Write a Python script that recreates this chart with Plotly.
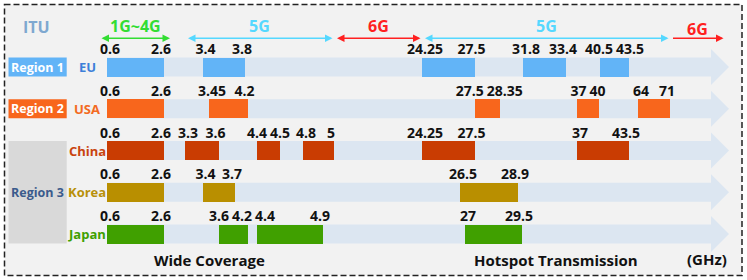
import numpy as np
import plotly.graph_objects as go

# ---------------- data ----------------
countries = ["EU", "USA", "China", "Korea", "Japan"]
country_region = ["Region 1", "Region 2", "Region 3", "Region 3", "Region 3"]

eu_lo = [0.6, 3.4, 24.25, 31.8, 40.5]
eu_hi = [2.6, 3.8, 27.5, 33.4, 43.5]
usa_lo = [0.6, 3.45, 27.5, 37, 64]
usa_hi = [2.6, 4.2, 28.35, 40, 71]
china_lo = [0.6, 3.3, 4.4, 4.8, 24.25, 37]
china_hi = [2.6, 3.6, 4.5, 5, 27.5, 43.5]
korea_lo = [0.6, 3.4, 26.5]
korea_hi = [2.6, 3.7, 28.9]
japan_lo = [0.6, 3.6, 4.4, 27]
japan_hi = [2.6, 4.2, 4.9, 29.5]

gen_names = ["1G~4G", "5G", "6G", "5G", "6G"]
gen_lo = [0.6, 3.3, 5.0, 24.25, 71]
gen_hi = [2.6, 5.0, 24.25, 71, None]

# ---------------- schematic (non-linear) frequency axis ----------------
# The figure uses a hand-drawn, compressed frequency scale; these knots define it.
axis_knots_ghz = [0.6, 2.6, 3.3, 3.4, 3.45, 3.6, 3.7, 3.8, 4.2, 4.4, 4.5, 4.8, 4.9, 5.0,
                  24.25, 26.5, 27.0, 27.5, 28.35, 28.9, 29.5, 31.8, 33.4, 37, 40, 40.5, 43.5, 64, 71]
axis_knots_pos = [107, 164, 185, 202.5, 209, 218.5, 235, 245, 247.5, 257, 280, 303, 323, 334,
                  422, 460, 465, 474.5, 500, 518, 522, 523, 566, 577, 599, 600, 629, 638, 670]


def fpos(f):
    return float(np.interp(f, axis_knots_ghz, axis_knots_pos))


# ---------------- styles ----------------
W, H = 747, 280
ROW0, STEP = 67.0, 41.75
FONT = "Open Sans"
bar_colors = ["#62b4f7", "#f8661c", "#c93c02", "#b98f00", "#40a000"]
name_colors = ["#3d7fd9", "#f36a22", "#c9440f", "#b8900a", "#3ea000"]
region_fill = {"Region 1": "#62b4f7", "Region 2": "#f8661c", "Region 3": "#d9d9d9"}
region_text = {"Region 1": "white", "Region 2": "white", "Region 3": "#3b5b8c"}
gen_colors = ["#33dd33", "#55d8ff", "#ff2020", "#55d8ff", "#ff2020"]
band_bg = "#dce6f1"


def py(p):
    """pixel row -> y-axis units (row index scale)"""
    return (p - ROW0) / STEP


bands = [(eu_lo, eu_hi), (usa_lo, usa_hi), (china_lo, china_hi),
         (korea_lo, korea_hi), (japan_lo, japan_hi)]

fig = go.Figure()
shapes = []
annotations = []

# outer panel
shapes.append(dict(type="rect", xref="x", yref="y", x0=4.5, x1=742, y0=py(4.5), y1=py(275.5),
                   fillcolor="#f2f2f2", line=dict(color="#222", width=1.5, dash="6px,3px"),
                   layer="below"))

# background arrows for each row
x_start = fpos(min(axis_knots_ghz))
body_h, head_h, head_x, tip_x = 9.5 / STEP, 18 / STEP, 711, 729
for i in range(len(countries)):
    c = i
    path = (f"M {x_start},{c-body_h} L {head_x},{c-body_h} L {head_x},{c-head_h} "
            f"L {tip_x},{c} L {head_x},{c+head_h} L {head_x},{c+body_h} L {x_start},{c+body_h} Z")
    shapes.append(dict(type="path", xref="x", yref="y", path=path, fillcolor=band_bg,
                       line=dict(width=0), layer="below"))

# region boxes and labels
region_names = list(dict.fromkeys(country_region))
for r in region_names:
    idx = [i for i, cr in enumerate(country_region) if cr == r]
    y0, y1 = min(idx) - 0.225, max(idx) + 0.225
    shapes.append(dict(type="rect", xref="x", yref="y", x0=8.5, x1=66.7, y0=y0, y1=y1,
                       fillcolor=region_fill[r], line=dict(width=0), layer="below"))
    annotations.append(dict(x=37.5, y=(min(idx) + max(idx)) / 2, xref="x", yref="y",
                            text=f"<b>{r}</b>", showarrow=False,
                            font=dict(family=FONT, size=12.5, color=region_text[r])))

# country names
for i, c in enumerate(countries):
    annotations.append(dict(x=87, y=i, xref="x", yref="y", text=f"<b>{c}</b>", showarrow=False,
                            font=dict(family=FONT, size=13, color=name_colors[i])))

# bars
for i, (lo, hi) in enumerate(bands):
    b = [fpos(v) for v in lo]
    w = [fpos(h) - fpos(l) for l, h in zip(lo, hi)]
    fig.add_trace(go.Bar(orientation="h", y=[i] * len(lo), base=b, x=w, width=19 / STEP,
                         marker=dict(color=bar_colors[i], line=dict(width=0)),
                         hoverinfo="skip", showlegend=False))


# frequency labels above bars (near the edges, pushed apart if they collide)
def tw(s, size=14):
    return sum(0.29 * size if ch == "." else 0.572 * size for ch in s)


INWARD = 3
lab_x, lab_y, lab_t = [], [], []
for i, (lo, hi) in enumerate(bands):
    labs = []
    for l, h in zip(lo, hi):
        labs.append([fpos(l) + INWARD, f"{l:g}"])
        labs.append([fpos(h) - INWARD, f"{h:g}"])
    labs.sort(key=lambda t: t[0])
    for _ in range(30):
        moved = False
        for k in range(len(labs) - 1):
            a, bb = labs[k], labs[k + 1]
            need = (tw(a[1]) + tw(bb[1])) / 2 + 3
            gap = bb[0] - a[0]
            if gap < need:
                d = (need - gap) / 2
                a[0] -= d
                bb[0] += d
                moved = True
        if not moved:
            break
    for xx, t in labs:
        lab_x.append(xx)
        lab_y.append(i - 16.5 / STEP)
        lab_t.append(t)

fig.add_trace(go.Scatter(x=lab_x, y=lab_y, text=lab_t, mode="text", textposition="middle center",
                         textfont=dict(family=FONT, size=14, color="#111", weight="bold"),
                         hoverinfo="skip", showlegend=False))

# generation arrows on top
arrow_y = py(38.3)
for k, (name, lo, hi) in enumerate(zip(gen_names, gen_lo, gen_hi)):
    x0 = fpos(lo)
    x1 = fpos(hi) if hi is not None else 725
    if k == 0:
        x0, x1 = x0 - 7, x1 + 6
    else:
        x0, x1 = x0 + 1.5, x1 - 1.5
    both = hi is not None
    annotations.append(dict(x=x1, y=arrow_y, ax=x0, ay=arrow_y, xref="x", yref="y",
                            axref="x", ayref="y", text="", showarrow=True,
                            arrowhead=2, arrowsize=1, arrowwidth=1.5, arrowcolor=gen_colors[k],
                            arrowside="end+start" if both else "end", startarrowhead=2,
                            startarrowsize=1))
    ty = py(25.5) if both else py(28.5)
    annotations.append(dict(x=(x0 + x1) / 2, y=ty, xref="x", yref="y", text=f"<b>{name}</b>",
                            showarrow=False, font=dict(family=FONT, size=16, color=gen_colors[k])))

# ITU title and bottom captions
annotations.append(dict(x=36.5, y=py(26.5), xref="x", yref="y", text="<b>ITU</b>", showarrow=False,
                        font=dict(family=FONT, size=16, color="#7ea8d0")))
annotations.append(dict(x=209, y=py(260), xref="x", yref="y", text="<b>Wide Coverage</b>",
                        showarrow=False, font=dict(family=FONT, size=15, color="#111")))
annotations.append(dict(x=556, y=py(260), xref="x", yref="y", text="<b>Hotspot Transmission</b>",
                        showarrow=False, font=dict(family=FONT, size=15, color="#111")))
annotations.append(dict(x=707, y=py(259), xref="x", yref="y", text="<b>(GHz)</b>",
                        showarrow=False, font=dict(family=FONT, size=15, color="#111")))

fig.update_layout(
    width=W, height=H, margin=dict(l=0, r=0, t=0, b=0),
    paper_bgcolor="white", plot_bgcolor="rgba(0,0,0,0)",
    barmode="overlay", bargap=0,
    xaxis=dict(range=[0, W], visible=False, fixedrange=True),
    yaxis=dict(range=[py(H), py(0)], visible=False, fixedrange=True),
    shapes=shapes, annotations=annotations, showlegend=False,
)

fig.write_html("out.html", config={"displayModeBar": False},
               post_script="document.body.style.margin='0px';document.body.style.overflow='hidden';")
